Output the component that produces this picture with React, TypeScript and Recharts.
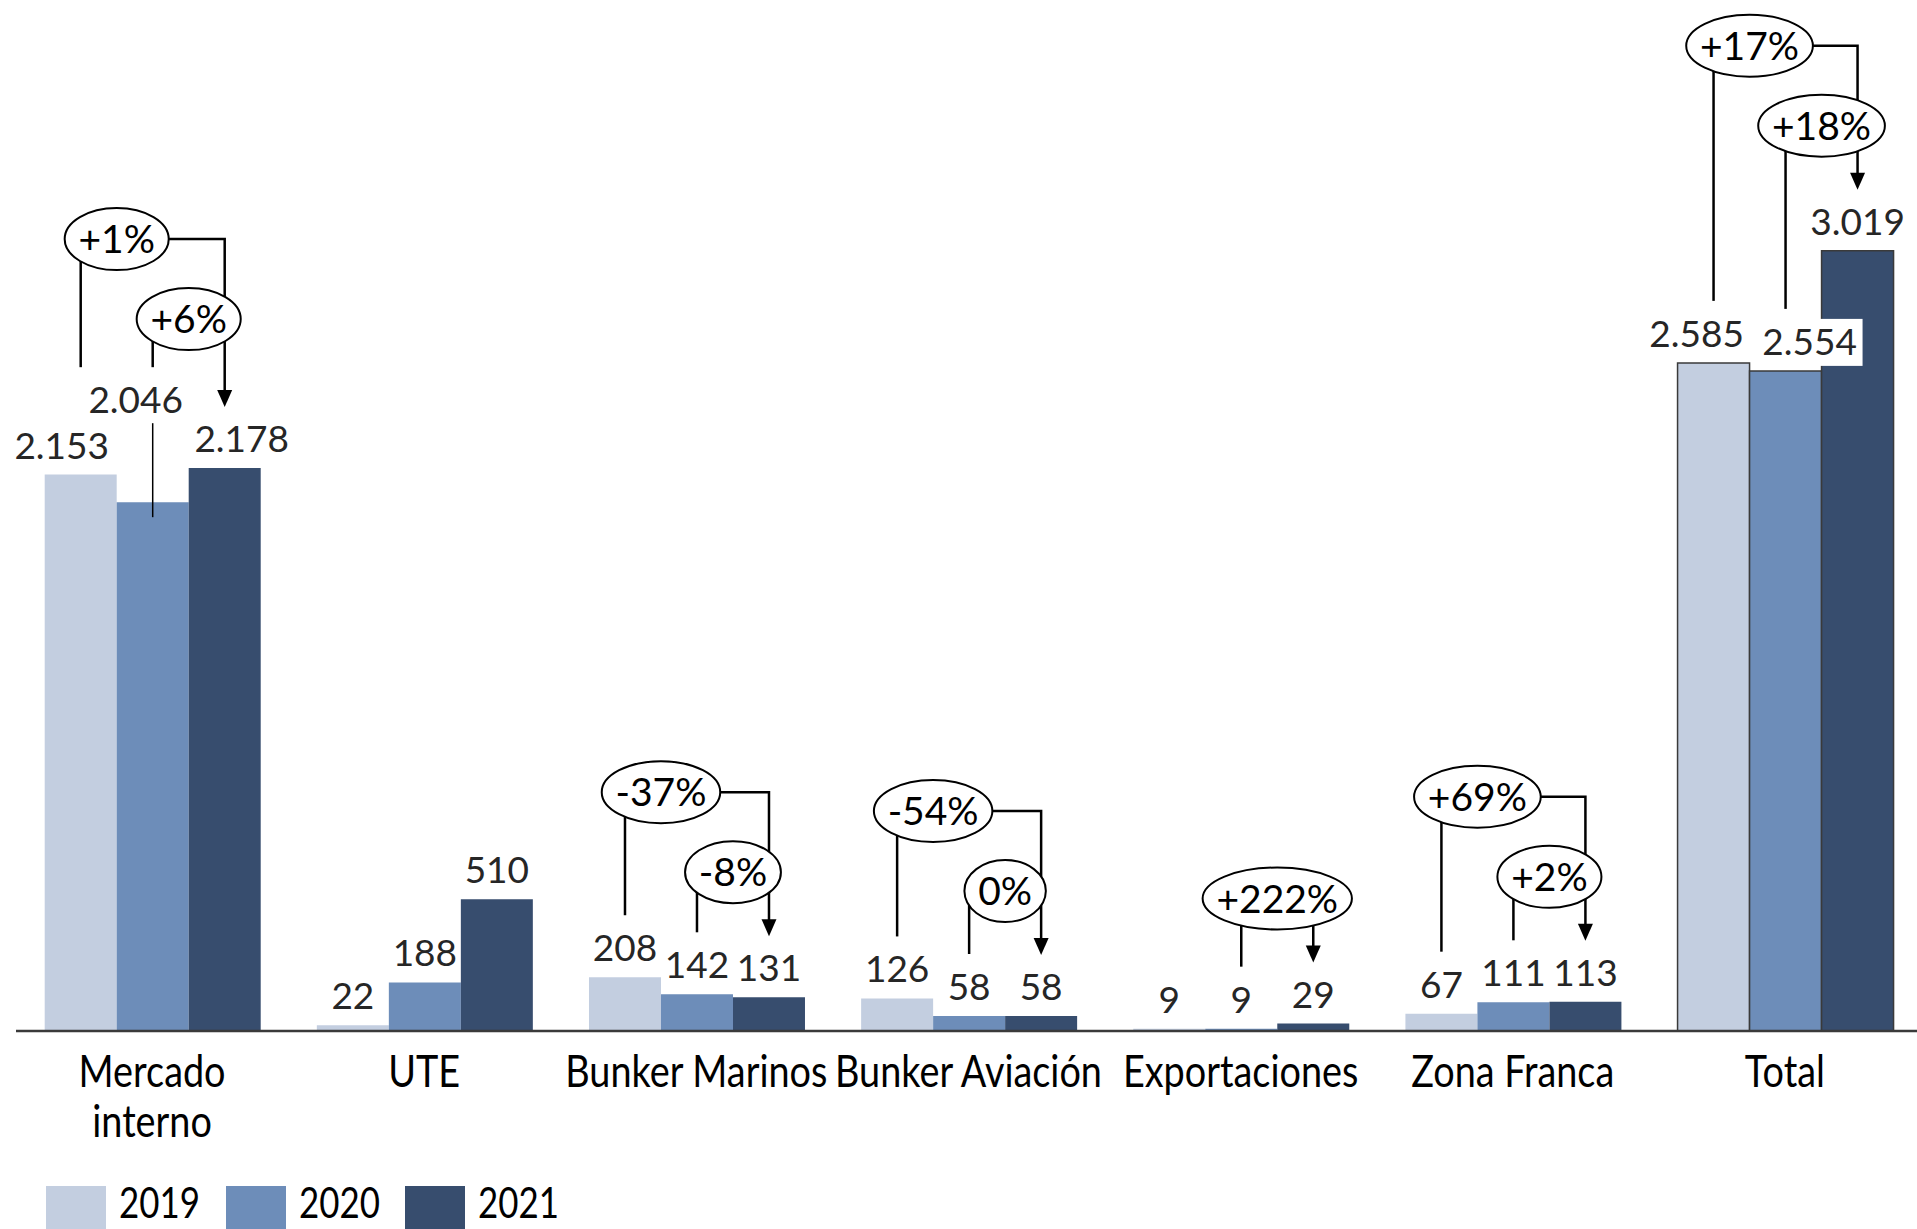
import React from "react";
import { BarChart, Bar, XAxis, YAxis, Cell, LabelList } from "recharts";

// tick labels (two lines for the first category)
const tickLabels = [
  ["Mercado", "interno"],
  ["UTE"],
  ["Bunker Marinos"],
  ["Bunker Aviación"],
  ["Exportaciones"],
  ["Zona Franca"],
  ["Total"],
];
const categories = tickLabels.map((l) => l.join(" "));
const years = ["2019", "2020", "2021"];

const values2019 = [2153, 22, 208, 126, 9, 67, 2585];
const values2020 = [2046, 188, 142, 58, 9, 111, 2554];
const values2021 = [2178, 510, 131, 58, 29, 113, 3019];

// variation badges: 2019 -> 2021 and 2020 -> 2021
const change19to21 = ["+1%", "", "-37%", "-54%", "", "+69%", "+17%"];
const change20to21 = ["+6%", "", "-8%", "0%", "+222%", "+2%", "+18%"];

const COLORS = ["#C3CEE0", "#6D8DB9", "#374D6E"];
const FONT = "Lato, 'Open Sans', sans-serif";

// manual label nudges (px) where the labels are wider than the bars
const labelShift: Record<string, { dx: number[]; dy: number[] }> = {
  "Mercado interno": { dx: [-19, -17, 17], dy: [0, -73, 0] },
  Total: { dx: [-17, 24, 0], dy: [0, 0, 0] },
};
// extra lift of the badges for crowded groups
const badgeLift: Record<string, number> = { "Mercado interno": 24 };

const rows = categories.map((name, i) => ({
  name,
  y2019: values2019[i],
  y2020: values2020[i],
  y2021: values2021[i],
}));

const fmt = (v: number) => String(v).replace(/\B(?=(\d{3})+(?!\d))/g, ".");

const BADGE_SIZE = 39;

const textWidth = (s: string, size: number) => {
  let w = 0;
  for (const ch of s) {
    if (ch === "%") w += 0.79;
    else if (ch === "-") w += 0.37;
    else w += 0.58;
  }
  return w * size;
};

function Badge({ cx, cy, text }: { cx: number; cy: number; text: string }) {
  const rx = textWidth(text, BADGE_SIZE) / 2 + 14;
  return (
    <g>
      <ellipse cx={cx} cy={cy} rx={rx} ry={31} fill="#fff" stroke="#000" strokeWidth={2} />
      <text x={cx} y={cy + 14} textAnchor="middle" fontFamily={FONT} fontSize={BADGE_SIZE} fill="#000">
        {text}
      </text>
    </g>
  );
}

function GroupLabels(props: any) {
  const vb = props.viewBox ?? props;
  const { x, y, width, height } = vb;
  const i = props.index;
  if (x == null || i == null) return null;
  const name = categories[i];
  const vals = [values2019[i], values2020[i], values2021[i]];
  const base = y + height;
  const k = height / vals[2]; // px per unit, taken from the bar the scale drew
  const tops = vals.map((v) => base - v * k);
  const centers = [x - 1.5 * width, x - 0.5 * width, x + 0.5 * width];
  const shift = labelShift[name] ?? { dx: [0, 0, 0], dy: [0, 0, 0] };
  const baselines = tops.map((t, s) => t - 16 + shift.dy[s]);

  const out: React.ReactNode[] = [];

  // connectors and badges
  const outer = change19to21[i];
  const inner = change20to21[i];
  if (inner) {
    const lift = badgeLift[name] ?? 0;
    const cyInner = tops[2] - 125 - lift;
    const cyOuter = tops[2] - 205 - lift;
    const tipY = tops[2] - 61;
    const bottoms = baselines.map((b) => b - 46);
    const lifted = shift.dy[1] < 0;
    const bottom19 = lifted ? Math.min(bottoms[0], bottoms[1]) : bottoms[0];
    const cxOuter = (centers[0] + centers[1]) / 2;
    const cxInner = (centers[1] + centers[2]) / 2;
    const line = { stroke: "#000", strokeWidth: 2.5, fill: "none" };
    if (outer) {
      out.push(<path key="o1" d={`M${centers[0]},${cyOuter} V${bottom19}`} {...line} />);
      out.push(<path key="o2" d={`M${cxOuter},${cyOuter} H${centers[2]} V${tipY - 16}`} {...line} />);
    } else {
      out.push(<path key="o2" d={`M${centers[2]},${cyInner} V${tipY - 16}`} {...line} />);
    }
    out.push(<path key="i1" d={`M${centers[1]},${cyInner} V${bottoms[1]}`} {...line} />);
    out.push(
      <path
        key="arrow"
        d={`M${centers[2] - 7.5},${tipY - 17} L${centers[2] + 7.5},${tipY - 17} L${centers[2]},${tipY} Z`}
        fill="#000"
      />
    );
    if (outer) out.push(<Badge key="bo" cx={cxOuter} cy={cyOuter} text={outer} />);
    out.push(<Badge key="bi" cx={cxInner} cy={cyInner} text={inner} />);
  }

  // value labels
  vals.forEach((v, s) => {
    const lx = centers[s] + shift.dx[s];
    const by = baselines[s];
    if (name === "Total" && s === 1) {
      out.push(<rect key={`bg${s}`} x={lx - 51} y={by - 36} width={104} height={47} fill="#fff" />);
    }
    if (shift.dy[s] < 0) {
      out.push(
        <line key={`ld${s}`} x1={centers[s]} x2={centers[s]} y1={by + 10} y2={tops[s] + 15} stroke="#000" strokeWidth={1.5} />
      );
    }
    out.push(
      <text
        key={`v${s}`}
        x={lx}
        y={by}
        textAnchor="middle"
        fontFamily={FONT}
        fontWeight={400}
        fontSize={37}
        fill="#262626"
      >
        {fmt(v)}
      </text>
    );
  });

  return <g>{out}</g>;
}

function CategoryTick({ x, y, index }: any) {
  const lines = tickLabels[index] ?? [];
  return (
    <g transform={`translate(${x},${y})`}>
      {lines.map((t, k) => (
        <text
          key={k}
          x={0}
          y={56 + k * 50}
          textAnchor="middle"
          transform="scale(0.86,1)"
          fontFamily={FONT}
          fontSize={44}
          fill="#000"
        >
          {t}
        </text>
      ))}
    </g>
  );
}

export default function App() {
  return (
    <div
      style={{
        position: "absolute",
        left: 0,
        top: 0,
        width: 1917,
        height: 1229,
        overflow: "hidden",
        background: "#fff",
      }}
    >
      <BarChart
        width={1921}
        height={1229}
        data={rows}
        margin={{ top: 23, right: 0, bottom: 48, left: 16 }}
        barCategoryGap={28.7}
        barGap={0}
      >
        <XAxis
          dataKey="name"
          height={150}
          axisLine={{ stroke: "#3a3a3a", strokeWidth: 2.5 }}
          tickLine={false}
          tickSize={0}
          tickMargin={0}
          interval={0}
          tick={<CategoryTick />}
        />
        <YAxis hide domain={[0, 3900]} />
        <Bar dataKey="y2019" fill={COLORS[0]} isAnimationActive={false}>
          {rows.map((r, i) => (
            <Cell key={i} stroke={r.name === "Total" ? "#3a3a3a" : "none"} strokeWidth={1.5} />
          ))}
        </Bar>
        <Bar dataKey="y2020" fill={COLORS[1]} isAnimationActive={false}>
          {rows.map((r, i) => (
            <Cell key={i} stroke={r.name === "Total" ? "#3a3a3a" : "none"} strokeWidth={1.5} />
          ))}
        </Bar>
        <Bar dataKey="y2021" fill={COLORS[2]} isAnimationActive={false}>
          {rows.map((r, i) => (
            <Cell key={i} stroke={r.name === "Total" ? "#3a3a3a" : "none"} strokeWidth={1.5} />
          ))}
          <LabelList dataKey="y2021" content={<GroupLabels />} />
        </Bar>
      </BarChart>

      {/* legend */}
      {years.map((yr, s) => (
        <div key={yr}>
          <div
            style={{
              position: "absolute",
              left: 46 + s * 179.5,
              top: 1186,
              width: 60,
              height: 43,
              background: COLORS[s],
            }}
          />
          <div
            style={{
              position: "absolute",
              left: 119 + s * 179.5,
              top: 1182,
              height: 40,
              fontFamily: FONT,
              fontSize: 42,
              lineHeight: "40px",
              color: "#000",
              transform: "scaleX(0.83)",
              transformOrigin: "left top",
            }}
          >
            {yr}
          </div>
        </div>
      ))}
    </div>
  );
}
